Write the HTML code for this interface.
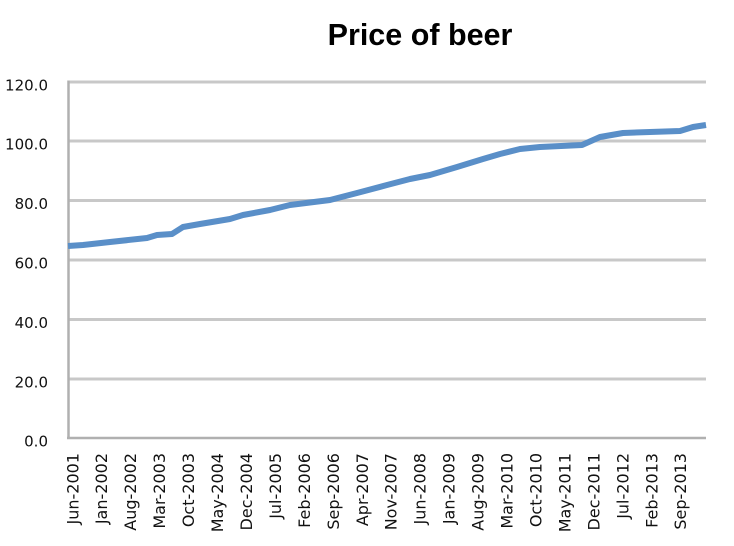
<!DOCTYPE html>
<html>
<head>
<meta charset="utf-8">
<style>
  html, body { margin: 0; padding: 0; background: #ffffff; }
  body { width: 734px; height: 546px; overflow: hidden; }
  svg { display: block; }
</style>
</head>
<body>
<svg width="734" height="546" viewBox="0 0 734 546" xmlns="http://www.w3.org/2000/svg">
  <rect x="0" y="0" width="734" height="546" fill="#ffffff"/>
  <!-- Title -->
  <text x="420" y="45" text-anchor="middle" font-family="Liberation Sans, Arial, sans-serif" font-weight="bold" font-size="30.5" fill="#000">Price of beer</text>

  <!-- Gridlines -->
  <g stroke="#c8c8c8" stroke-width="3">
    <line x1="68" y1="82" x2="706" y2="82"/>
    <line x1="68" y1="141" x2="706" y2="141"/>
    <line x1="68" y1="200.5" x2="706" y2="200.5"/>
    <line x1="68" y1="260" x2="706" y2="260"/>
    <line x1="68" y1="319.5" x2="706" y2="319.5"/>
    <line x1="68" y1="379" x2="706" y2="379"/>
  </g>
  <!-- Axes -->
  <line x1="68.5" y1="80.5" x2="68.5" y2="439" stroke="#b0b0b0" stroke-width="2.5"/>
  <line x1="67" y1="438" x2="706" y2="438" stroke="#b0b0b0" stroke-width="2.5"/>

  <!-- Y labels -->
  <g font-family="DejaVu Sans, Verdana, sans-serif" font-size="15" fill="#111" text-anchor="end">
    <text x="48" y="90.5">120.0</text>
    <text x="48" y="149.5">100.0</text>
    <text x="48" y="209">80.0</text>
    <text x="48" y="268.5">60.0</text>
    <text x="48" y="328">40.0</text>
    <text x="48" y="387.5">20.0</text>
    <text x="48" y="446.5">0.0</text>
  </g>

  <!-- X labels -->
  <g font-family="DejaVu Sans, Verdana, sans-serif" font-size="16" fill="#111" text-anchor="end">
    <text transform="translate(78.3,453) rotate(-90)">Jun-2001</text>
    <text transform="translate(107.2,453) rotate(-90)">Jan-2002</text>
    <text transform="translate(136.2,453) rotate(-90)">Aug-2002</text>
    <text transform="translate(165.1,453) rotate(-90)">Mar-2003</text>
    <text transform="translate(194.1,453) rotate(-90)">Oct-2003</text>
    <text transform="translate(223.0,453) rotate(-90)">May-2004</text>
    <text transform="translate(252.0,453) rotate(-90)">Dec-2004</text>
    <text transform="translate(280.9,453) rotate(-90)">Jul-2005</text>
    <text transform="translate(309.9,453) rotate(-90)">Feb-2006</text>
    <text transform="translate(338.8,453) rotate(-90)">Sep-2006</text>
    <text transform="translate(367.8,453) rotate(-90)">Apr-2007</text>
    <text transform="translate(396.7,453) rotate(-90)">Nov-2007</text>
    <text transform="translate(425.7,453) rotate(-90)">Jun-2008</text>
    <text transform="translate(454.6,453) rotate(-90)">Jan-2009</text>
    <text transform="translate(483.6,453) rotate(-90)">Aug-2009</text>
    <text transform="translate(512.5,453) rotate(-90)">Mar-2010</text>
    <text transform="translate(541.5,453) rotate(-90)">Oct-2010</text>
    <text transform="translate(570.4,453) rotate(-90)">May-2011</text>
    <text transform="translate(599.4,453) rotate(-90)">Dec-2011</text>
    <text transform="translate(628.3,453) rotate(-90)">Jul-2012</text>
    <text transform="translate(657.3,453) rotate(-90)">Feb-2013</text>
    <text transform="translate(686.2,453) rotate(-90)">Sep-2013</text>
  </g>

  <!-- Series -->
  <polyline fill="none" stroke="#5a8fc8" stroke-width="6" stroke-linejoin="round" stroke-linecap="butt"
    points="68,246 83,245 110,242 147,238 157,235 172,234 183,227 200,224 230,219 243,215 270,210 290,205 330,200 357,193 387,185 410,179 430,175 457,167 483,159 500,154 520,149 540,147 582,145 600,137 623,133 650,132 680,131 693,127 706,125"/>
</svg>
</body>
</html>
